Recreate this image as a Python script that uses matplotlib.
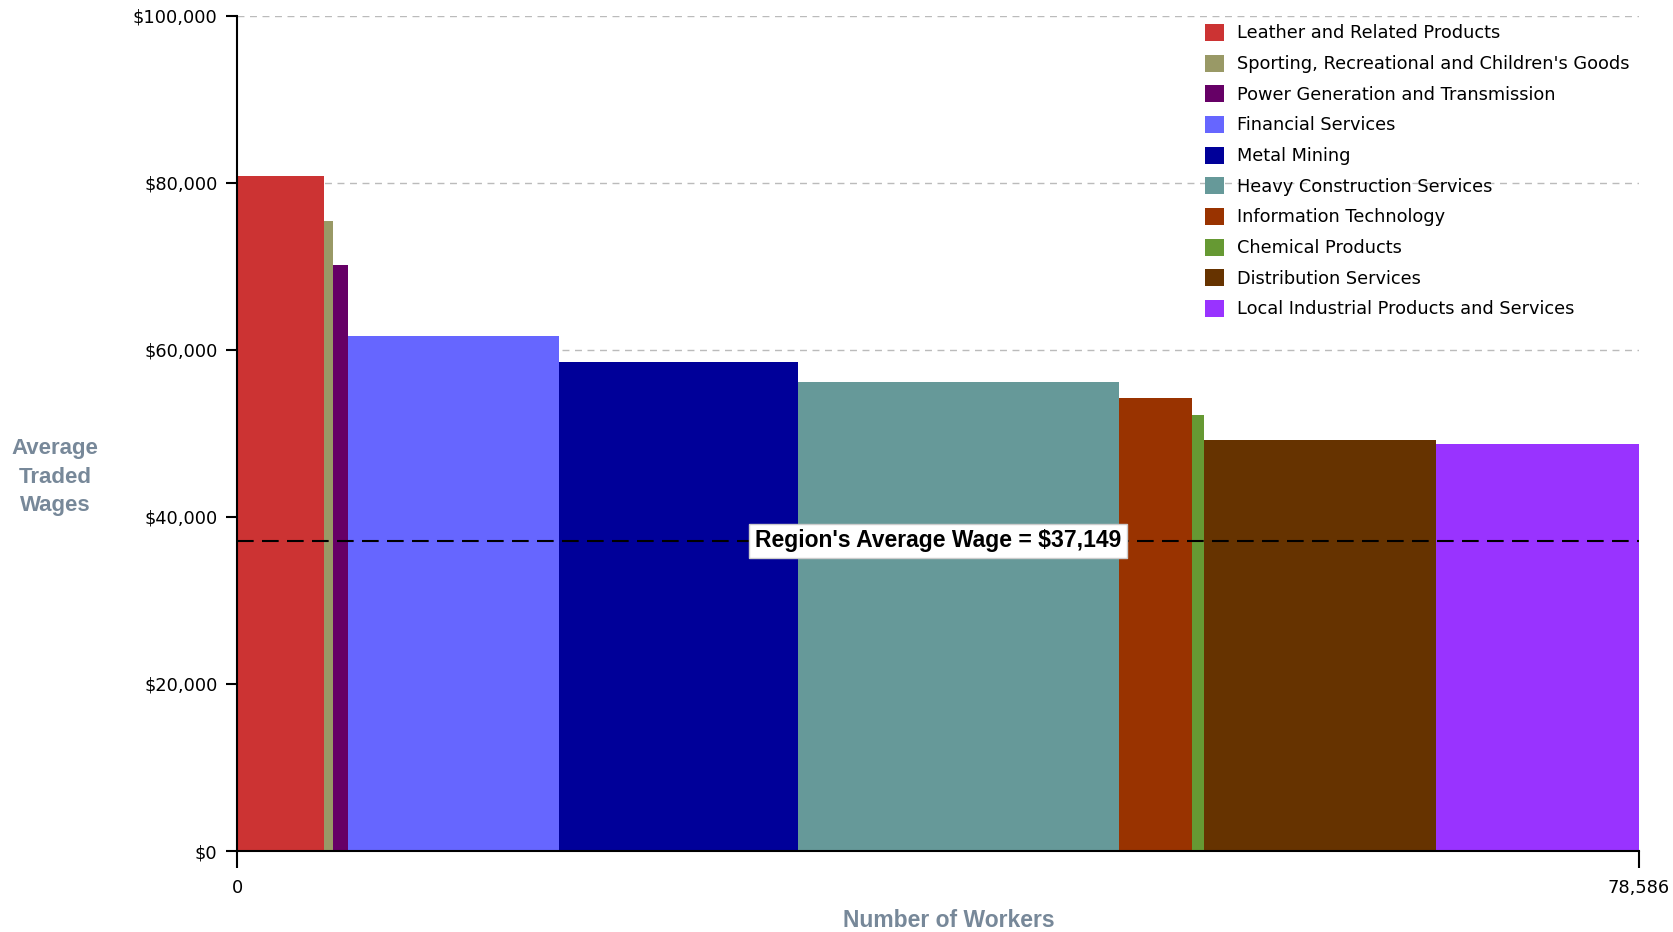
import matplotlib.pyplot as plt
from matplotlib.patches import Patch
from matplotlib.ticker import FuncFormatter

# Data
industries = [
    "Leather and Related Products",
    "Sporting, Recreational and Children's Goods",
    "Power Generation and Transmission",
    "Financial Services",
    "Metal Mining",
    "Heavy Construction Services",
    "Information Technology",
    "Chemical Products",
    "Distribution Services",
    "Local Industrial Products and Services",
]
workers = [4848, 539, 838, 11850, 13347, 18015, 4070, 718, 12988, 11373]
wages = [80800, 75450, 70200, 61650, 58550, 56150, 54200, 52200, 49250, 48750]
colors = ["#CC3333", "#999966", "#660066", "#6666FF", "#000099",
          "#669999", "#993300", "#669933", "#663300", "#9933FF"]

region_avg = 37149
total_workers = 78586
label_color = "#778899"

plt.rcParams['font.family'] = ['Liberation Sans', 'DejaVu Sans']

fig = plt.figure(figsize=(16.74, 9.32), dpi=100)
ax = fig.add_axes([0.1416, 0.0869, 0.8375, 0.896])

# Variable-width bars: left edges from cumulative worker counts
lefts = []
pos = 0
for w in workers:
    lefts.append(pos)
    pos += w
ax.bar(lefts, wages, width=workers, align='edge', color=colors,
       edgecolor='none', zorder=2)

ax.axhline(region_avg, color='black', linestyle=(0, (8, 4)), linewidth=1.5, zorder=3)
ax.text(total_workers / 2, region_avg, "Region's Average Wage = $37,149",
        ha='center', va='center', fontsize=16.5, fontweight='bold', zorder=4,
        bbox=dict(facecolor='white', edgecolor='#cccccc', boxstyle='square,pad=0.25'))

ax.set_xlim(0, total_workers)
ax.set_ylim(0, 100000)
ax.set_yticks([0, 20000, 40000, 60000, 80000, 100000])
ax.yaxis.set_major_formatter(FuncFormatter(lambda v, p: f"${v:,.0f}"))
ax.set_xticks([0, total_workers])
ax.set_xticklabels(["0", f"{total_workers:,}"])
ax.tick_params(axis='y', length=8, width=1.5, pad=6)
ax.tick_params(axis='x', length=12, width=1.5, pad=8)
for lbl in ax.get_yticklabels() + ax.get_xticklabels():
    lbl.set_family('DejaVu Sans')
    lbl.set_fontsize(12.8)
ax.grid(axis='y', color='#bbbbbb', linestyle=(0, (5, 4)), linewidth=1, zorder=0)
ax.set_axisbelow(True)

for side in ['top', 'right']:
    ax.spines[side].set_visible(False)
for side in ['left', 'bottom']:
    ax.spines[side].set_linewidth(1.5)

fig.text(0.033, 0.488, "Average\nTraded\nWages", ha='center', va='center',
         fontsize=16, fontweight='bold', color=label_color, linespacing=1.45)
fig.text(0.567, 0.0055, "Number of Workers", ha='center', va='baseline',
         fontsize=16.5, fontweight='bold', color=label_color)

handles = [Patch(facecolor=c, edgecolor='none') for c in colors]
ax.legend(handles, industries, loc='upper left', bbox_to_anchor=(0.685, 0.999),
          frameon=False, handlelength=1.1, handleheight=1.1,
          labelspacing=0.68, handletextpad=0.7, borderaxespad=0,
          prop={'family': 'DejaVu Sans', 'size': 12.8})

fig.savefig("out.png", dpi=100, facecolor='white')
